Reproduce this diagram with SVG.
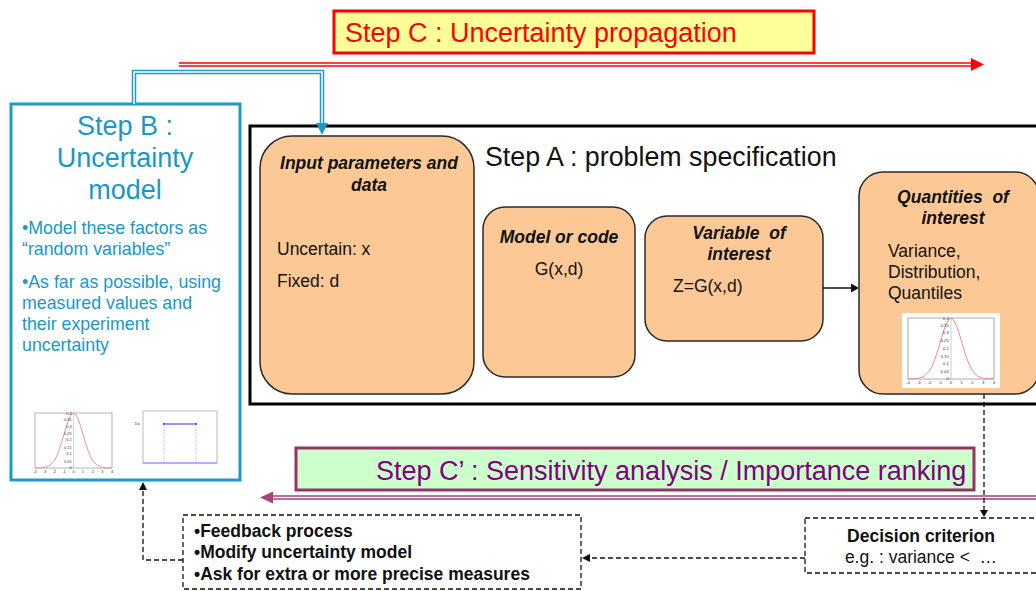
<svg xmlns="http://www.w3.org/2000/svg" xmlns:xlink="http://www.w3.org/1999/xlink" width="1036" height="591" viewBox="0 0 1036 591">
<style>
text{font-family:"Liberation Sans",Arial,sans-serif}
.title{font-size:27px}
.body{font-size:17.5px;fill:#111}
.bi{font-size:17.5px;font-weight:bold;font-style:italic;fill:#111}
.b{font-size:17.5px;font-weight:bold;fill:#111}
.blue{fill:#1898C8}
.node{fill:#FCC996;stroke:#2a2a2a;stroke-width:1.5}
.dash{fill:none;stroke:#111;stroke-width:1.3;stroke-dasharray:5,3}
.tick{font-size:4px;fill:#333}
</style>
<defs>
<g id="gauss">
<rect x="0" y="0" width="80" height="60" fill="#fff" stroke="#999" stroke-width="0.8"/>
<line x1="40" y1="0" x2="40" y2="60" stroke="#888" stroke-width="0.4"/>
<path d="M0,59.98 L5,59.87 L10,59.34 L15,57.37 L20,51.9 L22.5,47.1 L25,40.6 L27.5,32.6 L30,23.7 L32.5,14.8 L35,7.2 L37.5,2 L40,0.16 L42.5,2 L45,7.2 L47.5,14.8 L50,23.7 L52.5,32.6 L55,40.6 L57.5,47.1 L60,51.9 L65,57.37 L70,59.34 L75,59.87 L80,59.98" fill="none" stroke="#F08080" stroke-width="0.9"/>
<text class="tick" x="38" y="2" text-anchor="end">0.4</text>
<text class="tick" x="38" y="9" text-anchor="end">0.35</text>
<text class="tick" x="38" y="16" text-anchor="end">0.3</text>
<text class="tick" x="38" y="24" text-anchor="end">0.25</text>
<text class="tick" x="38" y="31" text-anchor="end">0.2</text>
<text class="tick" x="38" y="39" text-anchor="end">0.15</text>
<text class="tick" x="38" y="46" text-anchor="end">0.1</text>
<text class="tick" x="38" y="54" text-anchor="end">0.05</text>
<text class="tick" x="38" y="61" text-anchor="end">0</text>
<text class="tick" x="0" y="65" text-anchor="middle">-4</text>
<text class="tick" x="10" y="65" text-anchor="middle">-3</text>
<text class="tick" x="20" y="65" text-anchor="middle">-2</text>
<text class="tick" x="30" y="65" text-anchor="middle">-1</text>
<text class="tick" x="40" y="65" text-anchor="middle">0</text>
<text class="tick" x="50" y="65" text-anchor="middle">1</text>
<text class="tick" x="60" y="65" text-anchor="middle">2</text>
<text class="tick" x="70" y="65" text-anchor="middle">3</text>
<text class="tick" x="80" y="65" text-anchor="middle">4</text>
</g>
</defs>

<!-- Step A frame -->
<g id="stepA">
<rect x="250" y="126" width="800" height="278" fill="#fff" stroke="#000" stroke-width="3"/>
<text class="title" x="485" y="166" style="font-size:26.8px" fill="#111">Step A : problem specification</text>
</g>

<!-- Step C -->
<g id="stepC">
<rect x="334" y="11" width="480" height="42" fill="#FFFF99" stroke="#FF0000" stroke-width="3"/>
<text class="title" x="345" y="42" fill="#FF0000">Step C : Uncertainty propagation</text>
</g>

<!-- Step B -->
<g id="stepB">
<rect x="11" y="104" width="229" height="376" fill="#fff" stroke="#1C9ACA" stroke-width="3"/>
<text class="title blue" x="125" y="135" text-anchor="middle">Step B :</text>
<text class="title blue" x="125" y="167" text-anchor="middle">Uncertainty</text>
<text class="title blue" x="125" y="199" text-anchor="middle">model</text>
<text class="blue" style="font-size:17.8px" x="22" y="234">•Model these factors as</text>
<text class="blue" style="font-size:17.8px" x="22" y="255">“random variables”</text>
<text class="blue" style="font-size:17.8px" x="22" y="288">•As far as possible, using</text>
<text class="blue" style="font-size:17.8px" x="22" y="309">measured values and</text>
<text class="blue" style="font-size:17.8px" x="22" y="330">their experiment</text>
<text class="blue" style="font-size:17.8px" x="22" y="351">uncertainty</text>
<use xlink:href="#gauss" href="#gauss" transform="translate(35,413) scale(0.9625,0.917)"/>
<rect x="143" y="411" width="74" height="52" fill="#fff" stroke="#aaa" stroke-width="0.8"/>
<line x1="143" y1="463" x2="217" y2="463" stroke="#8888ff" stroke-width="1"/>
<line x1="164" y1="424" x2="196" y2="424" stroke="#3333ff" stroke-width="1"/>
<circle cx="164" cy="424" r="1" fill="#2222ff"/>
<circle cx="196" cy="424" r="1" fill="#2222ff"/>
<line x1="164" y1="424" x2="164" y2="463" stroke="#8888ff" stroke-width="0.6" stroke-dasharray="1,1"/>
<line x1="196" y1="424" x2="196" y2="463" stroke="#8888ff" stroke-width="0.6" stroke-dasharray="1,1"/>
<text class="tick" x="140" y="425" text-anchor="end">1/a</text>
</g>

<!-- nodes -->
<g id="input">
<rect class="node" x="260" y="136" width="214" height="258" rx="32" ry="32"/>
<text class="bi" x="369" y="169" text-anchor="middle">Input parameters and</text>
<text class="bi" x="369" y="191" text-anchor="middle">data</text>
<text class="body" x="277" y="255">Uncertain: x</text>
<text class="body" x="277" y="287">Fixed: d</text>
</g>
<g id="model">
<rect class="node" x="483" y="207" width="152" height="170" rx="22" ry="22"/>
<text class="bi" x="559" y="243" text-anchor="middle">Model or code</text>
<text class="body" x="559" y="275" text-anchor="middle">G(x,d)</text>
</g>
<g id="variable">
<rect class="node" x="645" y="216" width="178" height="125" rx="22" ry="22"/>
<text class="bi" x="739" y="239" text-anchor="middle" xml:space="preserve">Variable  of</text>
<text class="bi" x="739" y="260" text-anchor="middle">interest</text>
<text class="body" x="673" y="292">Z=G(x,d)</text>
</g>
<g id="quantities">
<rect class="node" x="859" y="172" width="180" height="222" rx="24" ry="24"/>
<text class="bi" x="953" y="203" text-anchor="middle" xml:space="preserve">Quantities  of</text>
<text class="bi" x="953" y="224" text-anchor="middle">interest</text>
<text class="body" x="888" y="257">Variance,</text>
<text class="body" x="888" y="278">Distribution,</text>
<text class="body" x="888" y="299">Quantiles</text>
<rect x="902" y="313" width="98" height="75" fill="#fff"/>
<use xlink:href="#gauss" href="#gauss" transform="translate(908,318) scale(1.075,1.017)"/>
</g>

<!-- Step C' -->
<g id="stepCprime">
<rect x="296" y="448" width="678" height="42" fill="#CCFFCC" stroke="#993366" stroke-width="3"/>
<text class="title" x="376" y="480" fill="#800080">Step C’ : Sensitivity analysis / Importance ranking</text>
</g>

<g id="decision">
<rect class="dash" x="805" y="518" width="240" height="55"/>
<text class="b" x="921" y="542" text-anchor="middle">Decision criterion</text>
<text class="body" x="921" y="563" text-anchor="middle" xml:space="preserve">e.g. : variance &lt;  …</text>
</g>

<g id="feedback">
<rect class="dash" x="183" y="515" width="398" height="74"/>
<text class="b" x="194" y="537">•Feedback process</text>
<text class="b" x="194" y="558">•Modify uncertainty model</text>
<text class="b" x="194" y="580">•Ask for extra or more precise measures</text>
</g>

<!-- connectors -->
<g id="connectors">
<line x1="179" y1="64.5" x2="972" y2="64.5" stroke="#FF0000" stroke-width="4.5"/>
<line x1="179" y1="64.5" x2="973" y2="64.5" stroke="#fff" stroke-width="1.5"/>
<polygon points="971,58 984,64.5 971,71" fill="#FF0000"/>
<path d="M134,104 V72 H322 V124" fill="none" stroke="#1C9ACA" stroke-width="4.5"/>
<path d="M134,104 V72 H322 V124" fill="none" stroke="#fff" stroke-width="1.5"/>
<polygon points="316,123 328,123 322,135" fill="#1C9ACA"/>
<line x1="1040" y1="497.5" x2="272" y2="497.5" stroke="#A0457A" stroke-width="4.5"/>
<line x1="1040" y1="497.5" x2="271" y2="497.5" stroke="#fff" stroke-width="1.5"/>
<polygon points="260,497.5 273,491.5 273,503.5" fill="#A0457A"/>
<line x1="823" y1="288" x2="852" y2="288" stroke="#111" stroke-width="1.5"/>
<polygon points="851,283.5 859,288 851,292.5" fill="#111"/>
<line class="dash" x1="984" y1="394" x2="984" y2="510"/>
<polygon points="980,510 988,510 984,517" fill="#111"/>
<line class="dash" x1="805" y1="558" x2="590" y2="558"/>
<polygon points="590,554 590,562 582,558" fill="#111"/>
<path class="dash" d="M183,560 H143 V490"/>
<polygon points="139,490 147,490 143,482" fill="#111"/>
</g>
</svg>
